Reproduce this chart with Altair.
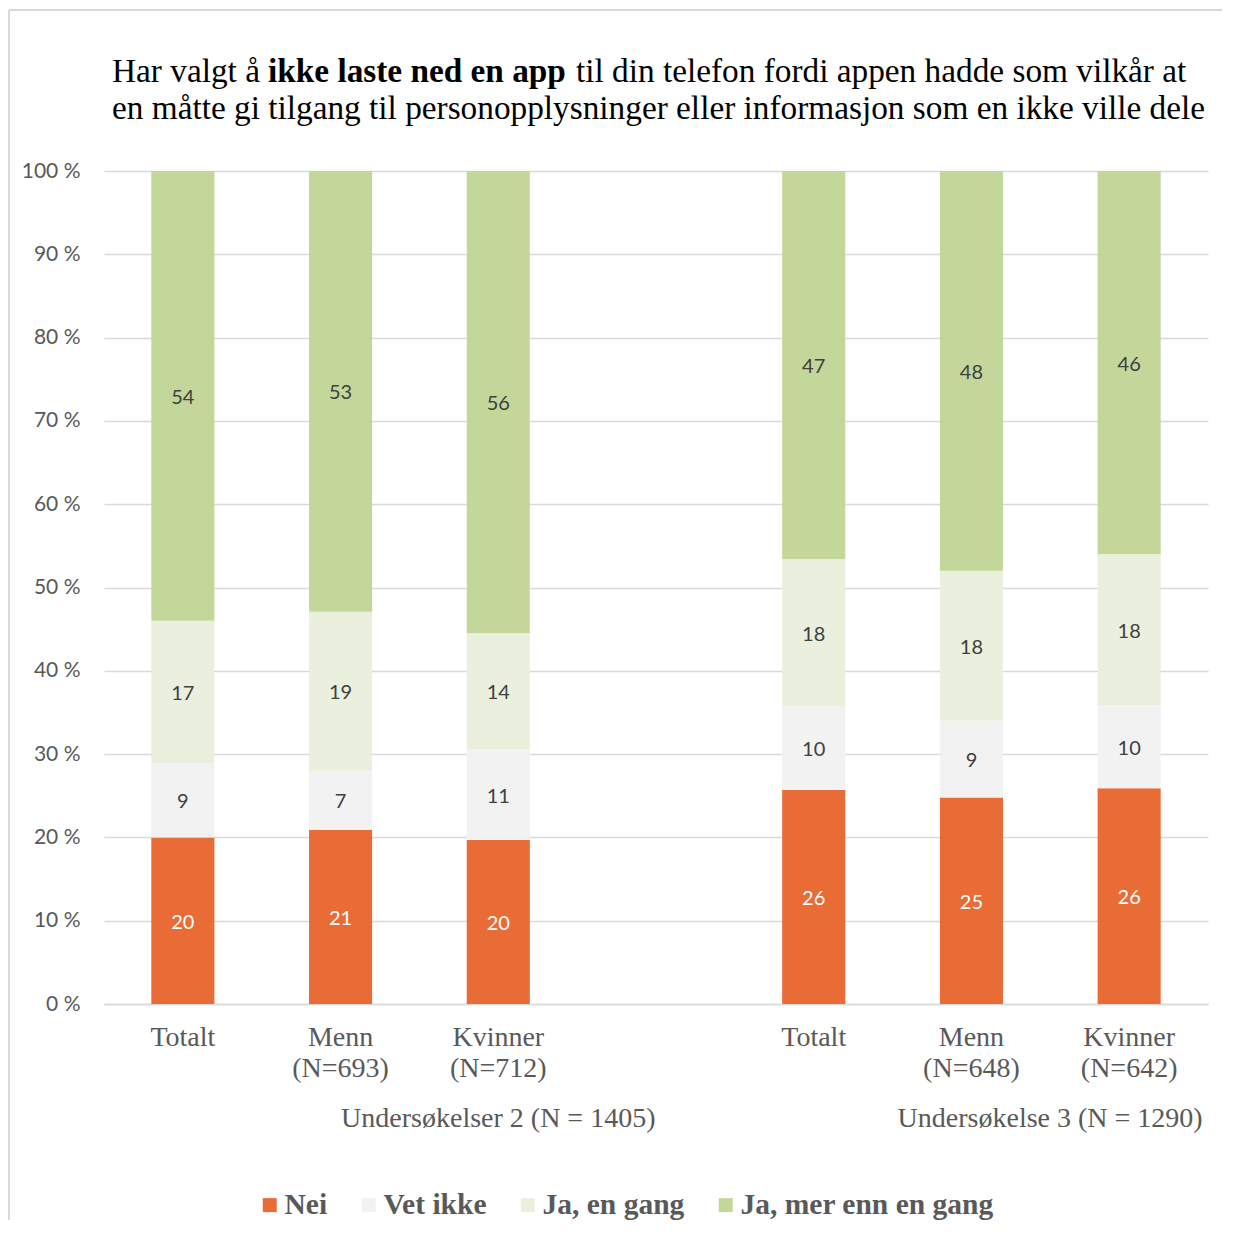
import altair as alt
import pandas as pd

# ---------------- data ----------------
slots = ["T2", "M2", "K2", "G", "T3", "M3", "K3"]
slot_lines = [["Totalt"], ["Menn", "(N=693)"], ["Kvinner", "(N=712)"], [""],
              ["Totalt"], ["Menn", "(N=648)"], ["Kvinner", "(N=642)"]]
bar_slots = ["T2", "M2", "K2", "T3", "M3", "K3"]
series = ["Nei", "Vet ikke", "Ja, en gang", "Ja, mer enn en gang"]
colors = ["#E96C37", "#F2F2F2", "#EBF0DE", "#C4D79B"]
nei = [20.0, 20.9, 19.7, 25.7, 24.8, 25.9]
vet_ikke = [8.9, 7.1, 10.9, 10.0, 9.2, 10.0]
ja_en = [17.1, 19.1, 13.9, 17.7, 18.0, 18.1]
ja_mer = [54.0, 52.9, 55.5, 46.6, 48.0, 46.0]
group_labels = ["Undersøkelser 2 (N = 1405)", "Undersøkelse 3 (N = 1290)"]
title_l1 = ["Har valgt å ", "ikke laste ned en app", "til din telefon fordi appen hadde som vilkår at"]
title_l2 = "en måtte gi tilgang til personopplysninger eller informasjon som en ikke ville dele"
y_ticks = [0, 10, 20, 30, 40, 50, 60, 70, 80, 90, 100]

rows = []
for s_i, (name, vals) in enumerate(zip(series, [nei, vet_ikke, ja_en, ja_mer])):
    for slot, v in zip(bar_slots, vals):
        rows.append({"slot": slot, "series": name, "order": s_i, "value": v})
df = pd.DataFrame(rows)

W, H = 1104, 833
SERIF = "Liberation Serif"
SANS = "Lato"
GRAY = "#595959"

label_expr = ""
for k, lines in zip(slots, slot_lines):
    arr = "[" + ",".join("'" + l + "'" for l in lines) + "]"
    label_expr += f"datum.value == '{k}' ? {arr} : "
label_expr += "''"

xscale = alt.Scale(domain=slots, paddingInner=0.6, paddingOuter=0.3)
yscale = alt.Scale(domain=[0, 100])

base = alt.Chart(df).transform_stack(
    stack="value", groupby=["slot"], as_=["y0", "y1"],
    sort=[alt.SortField("order", "ascending")]
).transform_calculate(mid="(datum.y0 + datum.y1) / 2")

bars = base.mark_bar().encode(
    x=alt.X("slot:N", scale=xscale, title=None,
            axis=alt.Axis(labelExpr=label_expr, labelAngle=0, ticks=False,
                          domainColor="#D9D9D9", domainWidth=1.5,
                          labelFont=SERIF, labelFontSize=28, labelColor=GRAY,
                          labelPadding=19, labelLineHeight=31)),
    y=alt.Y("y0:Q", scale=yscale, title=None,
            axis=alt.Axis(values=y_ticks, labelExpr="datum.value + ' %'",
                          grid=True, gridColor="#D9D9D9", gridWidth=1.5,
                          domain=False, ticks=False, labelPadding=24,
                          labelFont=SANS, labelFontSize=21, labelColor=GRAY)),
    y2="y1:Q",
    color=alt.Color("series:N", scale=alt.Scale(domain=series, range=colors),
                    sort=series,
                    legend=alt.Legend(title=None, orient="none", direction="horizontal",
                                      legendX=151, legendY=1019,
                                      symbolType="square", symbolSize=196,
                                      symbolStrokeWidth=0, labelFont=SERIF,
                                      labelFontSize=29.5, labelFontWeight="bold",
                                      labelColor=GRAY, columnPadding=26,
                                      labelOffset=0, labelLimit=500)),
)

labels = base.mark_text(font=SANS, fontSize=20, baseline="middle", dy=2).encode(
    x=alt.X("slot:N", scale=xscale),
    y=alt.Y("mid:Q", scale=yscale),
    text=alt.Text("value:Q", format=".0f"),
    color=alt.condition(alt.datum.series == "Nei", alt.value("white"), alt.value("#404040")),
)

grp_df = pd.DataFrame({"label": group_labels, "slot": ["K2", "K3"]})
grp2 = alt.Chart(grp_df.iloc[[0]]).mark_text(font=SERIF, fontSize=28, color=GRAY,
                                             baseline="middle").encode(
    x=alt.X("slot:N", scale=xscale), y=alt.value(948), text="label:N")
grp3 = alt.Chart(grp_df.iloc[[1]]).mark_text(font=SERIF, fontSize=28, color=GRAY,
                                             baseline="middle", dx=-79).encode(
    x=alt.X("slot:N", scale=xscale), y=alt.value(948), text="label:N")

tdf = pd.DataFrame({"t": title_l1 + [title_l2]})
t_pos = [(8, -89, "normal"), (164, -89, "bold"), (472, -89, "normal"), (8, -52, "normal")]
title_layers = []
for i, (xp, yp, fw) in enumerate(t_pos):
    title_layers.append(
        alt.Chart(tdf.iloc[[i]]).mark_text(font=SERIF, fontSize=33.3, fontWeight=fw,
                                           color="black", align="left",
                                           baseline="alphabetic").encode(
            x=alt.value(xp), y=alt.value(yp), text="t:N"))

border_top = alt.Chart(pd.DataFrame({"a": [0]})).mark_rule(color="#D9D9D9", strokeWidth=2).encode(
    x=alt.value(-95), x2=alt.value(W + 14), y=alt.value(-161))
border_left = alt.Chart(pd.DataFrame({"a": [0]})).mark_rule(color="#D9D9D9", strokeWidth=2).encode(
    x=alt.value(-95), y=alt.value(-161), y2=alt.value(H + 216))

chart = alt.layer(bars, labels, grp2, grp3, *title_layers, border_top, border_left).properties(
    width=W, height=H,
    autosize=alt.AutoSizeParams(type="none"),
    padding={"left": 96, "top": 163, "right": 14, "bottom": 216},
).configure(background="white").configure_view(stroke=None)

chart.save("out.html", embed_options={"renderer": "svg", "actions": False})
